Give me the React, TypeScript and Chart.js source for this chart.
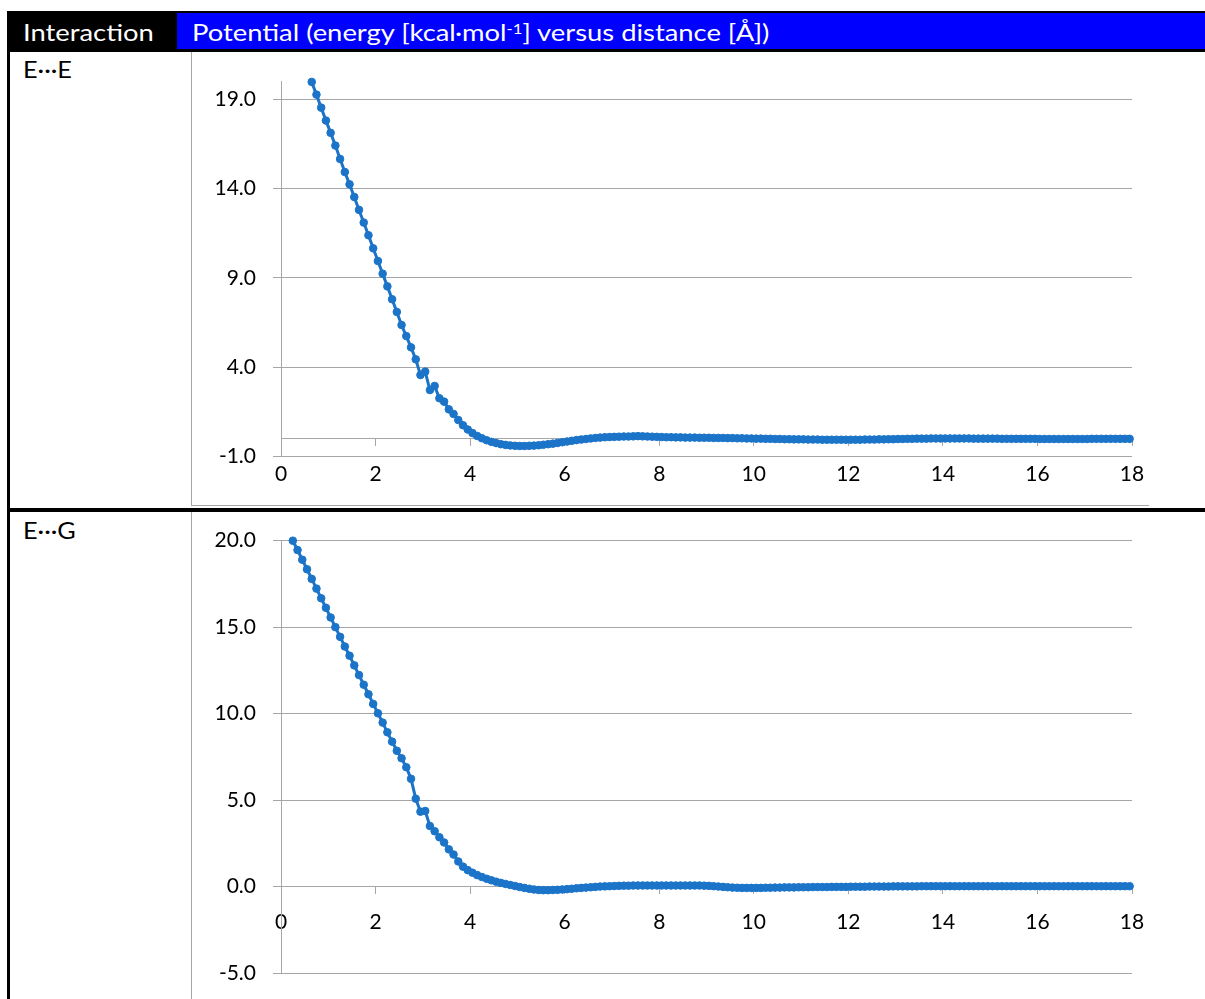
import React, { useEffect, useRef } from "react";
import { Chart, registerables } from "chart.js";

Chart.register(...registerables);

// ---------- text ----------
const HEADER_INTERACTION = "Interaction";
const HEADER_POTENTIAL_PRE = "Potential (energy [kcal·mol";
const HEADER_POTENTIAL_SUP = "-1";
const HEADER_POTENTIAL_POST = "] versus distance [Å])";
const ROW_LABELS = ["E···E", "E···G"];

// ---------- axes ----------
const X_RANGE = [0, 18];
const X_TICKS = [0, 2, 4, 6, 8, 10, 12, 14, 16, 18];
const EE_Y_RANGE = [-1, 20];
const EE_Y_TICKS = [-1, 4, 9, 14, 19];
const EG_Y_RANGE = [-5, 20];
const EG_Y_TICKS = [-5, 0, 5, 10, 15, 20];

// ---------- E···E series ----------
const EE_DIST = [
  0.65, 0.75, 0.85, 0.95, 1.05, 1.15, 1.25, 1.35, 1.45, 1.55,
  1.65, 1.75, 1.85, 1.95, 2.05, 2.15, 2.25, 2.35, 2.45, 2.55,
  2.65, 2.75, 2.85, 2.95, 3.05, 3.15, 3.25, 3.35, 3.45, 3.55,
  3.65, 3.75, 3.85, 3.95, 4.05, 4.15, 4.25, 4.35, 4.45, 4.55,
  4.65, 4.75, 4.85, 4.95, 5.05, 5.15, 5.25, 5.35, 5.45, 5.55,
  5.65, 5.75, 5.85, 5.95, 6.05, 6.15, 6.25, 6.35, 6.45, 6.55,
  6.65, 6.75, 6.85, 6.95, 7.05, 7.15, 7.25, 7.35, 7.45, 7.55,
  7.65, 7.75, 7.85, 7.95, 8.05, 8.15, 8.25, 8.35, 8.45, 8.55,
  8.65, 8.75, 8.85, 8.95, 9.05, 9.15, 9.25, 9.35, 9.45, 9.55,
  9.65, 9.75, 9.85, 9.95, 10.05, 10.15, 10.25, 10.35, 10.45, 10.55,
  10.65, 10.75, 10.85, 10.95, 11.05, 11.15, 11.25, 11.35, 11.45, 11.55,
  11.65, 11.75, 11.85, 11.95, 12.05, 12.15, 12.25, 12.35, 12.45, 12.55,
  12.65, 12.75, 12.85, 12.95, 13.05, 13.15, 13.25, 13.35, 13.45, 13.55,
  13.65, 13.75, 13.85, 13.95, 14.05, 14.15, 14.25, 14.35, 14.45, 14.55,
  14.65, 14.75, 14.85, 14.95, 15.05, 15.15, 15.25, 15.35, 15.45, 15.55,
  15.65, 15.75, 15.85, 15.95, 16.05, 16.15, 16.25, 16.35, 16.45, 16.55,
  16.65, 16.75, 16.85, 16.95, 17.05, 17.15, 17.25, 17.35, 17.45, 17.55,
  17.65, 17.75, 17.85, 17.95,
];
const EE_ENERGY = [
  19.97, 19.26, 18.53, 17.81, 17.12, 16.41, 15.66, 14.93, 14.24, 13.53,
  12.81, 12.1, 11.39, 10.66, 9.95, 9.24, 8.53, 7.81, 7.1, 6.37,
  5.75, 5.12, 4.45, 3.57, 3.76, 2.73, 2.96, 2.27, 2.08, 1.65,
  1.39, 1.05, 0.76, 0.52, 0.32, 0.16, 0.03, -0.08, -0.17, -0.24,
  -0.3, -0.34, -0.37, -0.39, -0.4, -0.4, -0.39, -0.38, -0.36, -0.33,
  -0.3, -0.27, -0.23, -0.19, -0.15, -0.11, -0.07, -0.04, -0.01, 0.02,
  0.05, 0.07, 0.09, 0.1, 0.11, 0.12, 0.13, 0.13, 0.14, 0.15,
  0.14, 0.13, 0.12, 0.11, 0.1, 0.09, 0.09, 0.08, 0.08, 0.07,
  0.07, 0.07, 0.06, 0.06, 0.06, 0.05, 0.05, 0.05, 0.04, 0.04,
  0.03, 0.03, 0.02, 0.02, 0.01, 0.01, 0.0, 0.0, -0.01, -0.01,
  -0.02, -0.02, -0.03, -0.03, -0.03, -0.04, -0.04, -0.04, -0.05, -0.05,
  -0.05, -0.05, -0.05, -0.05, -0.05, -0.05, -0.05, -0.04, -0.04, -0.04,
  -0.03, -0.03, -0.02, -0.02, -0.01, -0.01, 0.0, 0.0, 0.01, 0.01,
  0.01, 0.02, 0.02, 0.02, 0.02, 0.02, 0.02, 0.02, 0.02, 0.02,
  0.01, 0.01, 0.01, 0.01, 0.01, 0.01, 0.0, 0.0, 0.0, 0.0,
  0.0, 0.0, 0.0, 0.0, -0.01, -0.01, -0.01, -0.01, -0.01, -0.01,
  -0.01, -0.01, -0.01, -0.01, -0.01, 0.0, 0.0, 0.0, 0.0, 0.0,
  0.0, 0.0, 0.0, 0.0,
];

// ---------- E···G series ----------
const EG_DIST = [
  0.25, 0.35, 0.45, 0.55, 0.65, 0.75, 0.85, 0.95, 1.05, 1.15,
  1.25, 1.35, 1.45, 1.55, 1.65, 1.75, 1.85, 1.95, 2.05, 2.15,
  2.25, 2.35, 2.45, 2.55, 2.65, 2.75, 2.85, 2.95, 3.05, 3.15,
  3.25, 3.35, 3.45, 3.55, 3.65, 3.75, 3.85, 3.95, 4.05, 4.15,
  4.25, 4.35, 4.45, 4.55, 4.65, 4.75, 4.85, 4.95, 5.05, 5.15,
  5.25, 5.35, 5.45, 5.55, 5.65, 5.75, 5.85, 5.95, 6.05, 6.15,
  6.25, 6.35, 6.45, 6.55, 6.65, 6.75, 6.85, 6.95, 7.05, 7.15,
  7.25, 7.35, 7.45, 7.55, 7.65, 7.75, 7.85, 7.95, 8.05, 8.15,
  8.25, 8.35, 8.45, 8.55, 8.65, 8.75, 8.85, 8.95, 9.05, 9.15,
  9.25, 9.35, 9.45, 9.55, 9.65, 9.75, 9.85, 9.95, 10.05, 10.15,
  10.25, 10.35, 10.45, 10.55, 10.65, 10.75, 10.85, 10.95, 11.05, 11.15,
  11.25, 11.35, 11.45, 11.55, 11.65, 11.75, 11.85, 11.95, 12.05, 12.15,
  12.25, 12.35, 12.45, 12.55, 12.65, 12.75, 12.85, 12.95, 13.05, 13.15,
  13.25, 13.35, 13.45, 13.55, 13.65, 13.75, 13.85, 13.95, 14.05, 14.15,
  14.25, 14.35, 14.45, 14.55, 14.65, 14.75, 14.85, 14.95, 15.05, 15.15,
  15.25, 15.35, 15.45, 15.55, 15.65, 15.75, 15.85, 15.95, 16.05, 16.15,
  16.25, 16.35, 16.45, 16.55, 16.65, 16.75, 16.85, 16.95, 17.05, 17.15,
  17.25, 17.35, 17.45, 17.55, 17.65, 17.75, 17.85, 17.95,
];
const EG_ENERGY = [
  20.0, 19.46, 18.9, 18.35, 17.79, 17.23, 16.67, 16.12, 15.56, 15.0,
  14.44, 13.88, 13.35, 12.79, 12.23, 11.67, 11.12, 10.56, 10.02, 9.48,
  8.92, 8.38, 7.85, 7.42, 6.9, 6.23, 5.08, 4.33, 4.37, 3.5,
  3.2, 2.85, 2.55, 2.15, 1.85, 1.45, 1.15, 0.95, 0.8, 0.66,
  0.55, 0.45, 0.36, 0.28, 0.21, 0.15, 0.09, 0.03, -0.03, -0.08,
  -0.13, -0.17, -0.2, -0.21, -0.21, -0.2, -0.19, -0.17, -0.15, -0.13,
  -0.1, -0.08, -0.06, -0.04, -0.02, 0.0, 0.01, 0.02, 0.03, 0.04,
  0.05, 0.05, 0.06, 0.06, 0.06, 0.06, 0.06, 0.06, 0.06, 0.06,
  0.06, 0.06, 0.06, 0.06, 0.06, 0.06, 0.06, 0.05, 0.04, 0.02,
  0.0, -0.02, -0.04, -0.06, -0.07, -0.08, -0.08, -0.08, -0.08, -0.08,
  -0.07, -0.07, -0.06, -0.06, -0.05, -0.05, -0.05, -0.04, -0.04, -0.04,
  -0.03, -0.03, -0.03, -0.03, -0.02, -0.02, -0.02, -0.02, -0.01, -0.01,
  -0.01, -0.01, 0.0, 0.0, 0.0, 0.0, 0.0, 0.01, 0.01, 0.01,
  0.01, 0.01, 0.01, 0.02, 0.02, 0.02, 0.02, 0.02, 0.02, 0.02,
  0.02, 0.02, 0.02, 0.02, 0.02, 0.02, 0.02, 0.02, 0.02, 0.02,
  0.02, 0.02, 0.02, 0.02, 0.02, 0.02, 0.02, 0.02, 0.02, 0.02,
  0.02, 0.02, 0.02, 0.02, 0.02, 0.02, 0.02, 0.02, 0.02, 0.02,
  0.02, 0.02, 0.02, 0.02, 0.02, 0.02, 0.02, 0.02,
];

// ---------- styles ----------
const FONT_FAMILY = "Lato, 'Open Sans', 'DejaVu Sans', sans-serif";
const SERIES_COLOR = "#1B74C8";
const GRID_COLOR = "#A6A6A6";
const FRAME_COLOR = "#A6A6A6";
const TICK_FONT = { family: FONT_FAMILY, size: 21 };

type ChartProps = {
  dist: number[];
  energy: number[];
  yRange: number[];
  yTicks: number[];
  left: number;
  top: number;
  width: number;
  height: number;
  padTop: number;
  padBottom: number;
  padRight: number;
  yAxisWidth: number;
};

function PotentialChart(props: ChartProps) {
  const ref = useRef<HTMLCanvasElement | null>(null);
  useEffect(() => {
    if (!ref.current) return;
    const points = props.dist.map((x, i) => ({ x, y: props.energy[i] }));
    const chart = new Chart(ref.current, {
      type: "scatter",
      data: {
        datasets: [
          {
            data: points,
            showLine: true,
            borderColor: SERIES_COLOR,
            backgroundColor: SERIES_COLOR,
            borderWidth: 3,
            pointRadius: 3.8,
            pointBorderWidth: 1,
            pointBackgroundColor: SERIES_COLOR,
            pointBorderColor: SERIES_COLOR,
            tension: 0,
            clip: false as any,
          },
        ],
      },
      options: {
        animation: false,
        responsive: false,
        devicePixelRatio: 1,
        layout: {
          padding: { left: 0, right: props.padRight, top: props.padTop, bottom: props.padBottom },
        },
        plugins: { legend: { display: false }, tooltip: { enabled: false } },
        scales: {
          x: {
            type: "linear",
            position: { y: 0 } as any,
            min: X_RANGE[0],
            max: X_RANGE[1],
            afterBuildTicks: (s: any) => {
              s.ticks = X_TICKS.map((v) => ({ value: v }));
            },
            afterFit: (s: any) => {
              s.paddingLeft = 0;
              s.paddingRight = 0;
              s.paddingTop = 0;
              s.paddingBottom = 0;
            },
            grid: {
              drawOnChartArea: false,
              drawTicks: true,
              tickLength: 7,
              color: GRID_COLOR,
              lineWidth: 1,
            },
            border: { display: true, color: GRID_COLOR, width: 1 },
            ticks: {
              font: TICK_FONT,
              color: "#000",
              padding: 16,
              maxRotation: 0,
              autoSkip: false,
              callback: (v: any) => String(v),
            },
          },
          y: {
            type: "linear",
            min: props.yRange[0],
            max: props.yRange[1],
            afterBuildTicks: (s: any) => {
              s.ticks = props.yTicks.map((v) => ({ value: v }));
            },
            afterFit: (s: any) => {
              s.width = props.yAxisWidth;
              s.paddingTop = 0;
              s.paddingBottom = 0;
              s.paddingLeft = 0;
              s.paddingRight = 0;
            },
            grid: {
              drawTicks: true,
              tickLength: 8,
              color: GRID_COLOR,
              lineWidth: 1,
            },
            border: { display: true, color: GRID_COLOR, width: 1 },
            ticks: {
              font: TICK_FONT,
              color: "#000",
              padding: 17,
              autoSkip: false,
              callback: (v: any) => Number(v).toFixed(1),
            },
          },
        },
      },
    });
    return () => chart.destroy();
  }, []);
  return (
    <canvas
      ref={ref}
      width={props.width}
      height={props.height}
      style={{
        position: "absolute",
        left: props.left,
        top: props.top,
        width: props.width,
        height: props.height,
      }}
    />
  );
}

const textStyle = (left: number, top: number, color: string, stretch: number): React.CSSProperties => ({
  position: "absolute",
  left,
  top,
  fontFamily: FONT_FAMILY,
  fontSize: 23,
  lineHeight: 1.2,
  color,
  whiteSpace: "nowrap",
  transform: `scaleX(${stretch})`,
  transformOrigin: "0 0",
});

export default function App() {
  return (
    <div
      style={{
        position: "absolute",
        left: 0,
        top: 0,
        width: 1205,
        height: 999,
        overflow: "hidden",
        background: "#fff",
      }}
    >
      {/* header */}
      <div style={{ position: "absolute", left: 7, top: 11, width: 1198, height: 41, background: "#000" }} />
      <div style={{ position: "absolute", left: 177, top: 13, width: 1028, height: 36, background: "#0000FF" }} />
      <div style={textStyle(23, 19.3, "#fff", 1.19)}>{HEADER_INTERACTION}</div>
      <div style={textStyle(192, 19.3, "#fff", 1.19)}>
        {HEADER_POTENTIAL_PRE}
        <sup style={{ fontSize: 14, lineHeight: 0, verticalAlign: "7px" }}>{HEADER_POTENTIAL_SUP}</sup>
        {HEADER_POTENTIAL_POST}
      </div>

      {/* left border + row divider */}
      <div style={{ position: "absolute", left: 7, top: 11, width: 3, height: 988, background: "#000" }} />
      <div style={{ position: "absolute", left: 7, top: 508, width: 1198, height: 4, background: "#000" }} />

      {/* row labels */}
      <div style={textStyle(23, 56, "#000", 1.1)}>{ROW_LABELS[0]}</div>
      <div style={textStyle(23, 517, "#000", 1.1)}>{ROW_LABELS[1]}</div>

      {/* chart frames */}
      <div
        style={{
          position: "absolute",
          left: 191,
          top: 52,
          width: 958,
          height: 454,
          borderLeft: `1px solid ${FRAME_COLOR}`,
          borderBottom: `1px solid ${FRAME_COLOR}`,
          boxSizing: "border-box",
        }}
      />
      <div
        style={{
          position: "absolute",
          left: 191,
          top: 512,
          width: 958,
          height: 487,
          borderLeft: `1px solid ${FRAME_COLOR}`,
          boxSizing: "border-box",
        }}
      />

      <PotentialChart
        dist={EE_DIST}
        energy={EE_ENERGY}
        yRange={EE_Y_RANGE}
        yTicks={EE_Y_TICKS}
        left={192}
        top={53}
        width={956}
        height={451}
        padTop={28.4}
        padBottom={47.3}
        padRight={16}
        yAxisWidth={89}
      />
      <PotentialChart
        dist={EG_DIST}
        energy={EG_ENERGY}
        yRange={EG_Y_RANGE}
        yTicks={EG_Y_TICKS}
        left={192}
        top={513}
        width={956}
        height={486}
        padTop={27.7}
        padBottom={26}
        padRight={16}
        yAxisWidth={89}
      />
    </div>
  );
}
